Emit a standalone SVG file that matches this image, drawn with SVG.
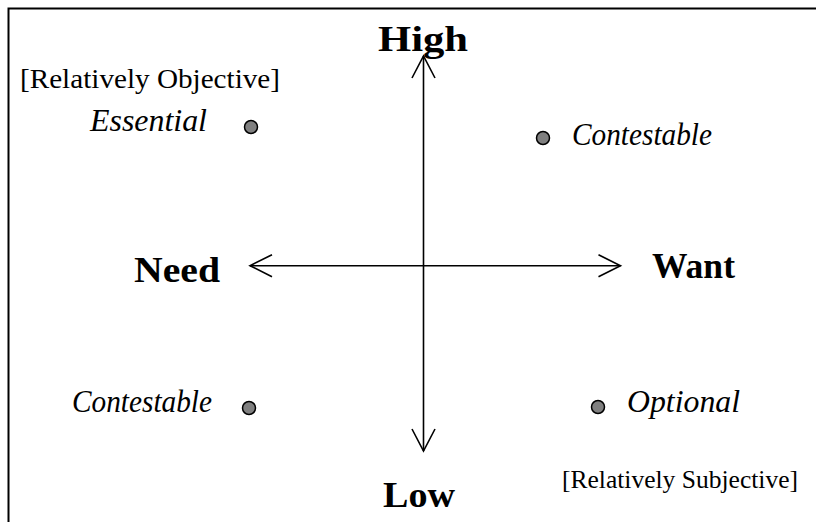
<svg xmlns="http://www.w3.org/2000/svg" width="816" height="522" viewBox="0 0 816 522">
<style>
text{font-family:"Liberation Serif","Times New Roman",serif;fill:#000}
.b{font-weight:bold;font-size:35px}
.i{font-style:italic;font-size:31px}
.n{font-size:28px}
.ax{stroke:#000;stroke-width:1.6;fill:none}
.dot{fill:#808080;stroke:#000;stroke-width:1.5}
</style>
<rect width="816" height="522" fill="#fff"/>
<path d="M8.5 522 V8.5 H816" stroke="#000" stroke-width="2" fill="none"/>
<g id="connectors">
<path class="ax" d="M423.5 56 V451"/>
<path class="ax" d="M412 78 L423.5 56 L435 78"/>
<path class="ax" d="M412 429 L423.5 451 L435 429"/>
<path class="ax" d="M250 265.7 H620.5"/>
<path class="ax" d="M272 254.7 L250 265.7 L272 276.7"/>
<path class="ax" d="M598.5 254.7 L620.5 265.7 L598.5 276.7"/>
</g>
<g id="high"><text class="b" x="378" y="51" textLength="90" lengthAdjust="spacingAndGlyphs">High</text></g>
<g id="low"><text class="b" x="383" y="507" textLength="72" lengthAdjust="spacingAndGlyphs">Low</text></g>
<g id="need"><text class="b" x="134" y="282" textLength="86" lengthAdjust="spacingAndGlyphs">Need</text></g>
<g id="want"><text class="b" x="652" y="278" textLength="83" lengthAdjust="spacingAndGlyphs">Want</text></g>
<g id="objective"><text class="n" x="20" y="88" textLength="260" lengthAdjust="spacingAndGlyphs">[Relatively Objective]</text></g>
<g id="essential"><text class="i" x="90" y="131" textLength="117" lengthAdjust="spacingAndGlyphs">Essential</text><circle class="dot" cx="251" cy="127" r="6.5"/></g>
<g id="contestable-top"><circle class="dot" cx="543" cy="138" r="6.5"/><text class="i" x="572" y="145" textLength="140" lengthAdjust="spacingAndGlyphs">Contestable</text></g>
<g id="contestable-bottom"><text class="i" x="72" y="412" textLength="140" lengthAdjust="spacingAndGlyphs">Contestable</text><circle class="dot" cx="249" cy="408" r="6.5"/></g>
<g id="optional"><circle class="dot" cx="598" cy="407" r="6.5"/><text class="i" x="627" y="412" textLength="113" lengthAdjust="spacingAndGlyphs">Optional</text></g>
<g id="subjective"><text x="562" y="488" font-size="26" textLength="236" lengthAdjust="spacingAndGlyphs">[Relatively Subjective]</text></g>
</svg>
